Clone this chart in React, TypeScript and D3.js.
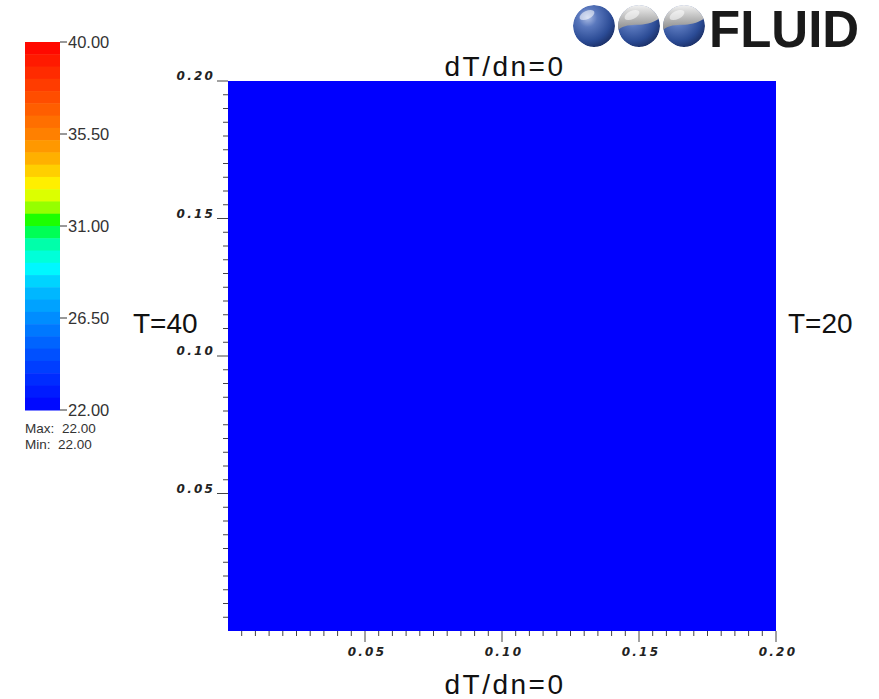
import React from "react";
import * as d3 from "d3";

// domain of the square field (m)
const xDomain = [0, 0.2];
const yDomain = [0, 0.2];
const majorTicks = [0.05, 0.1, 0.15, 0.2];
// field is uniform at the minimum here
const fieldValue = 22;

// colour bar
const barRange = [22, 40];
const barLabels = [40, 35.5, 31, 26.5, 22];
const barBands = 30;
// hue knots of the rainbow (position 0..1 -> hue)
const hueStops = [0, 0.16, 0.33, 0.38, 0.45, 0.5, 0.54, 0.6, 0.68, 0.75, 1];
const hueValues = [240, 220, 195, 183, 160, 130, 90, 60, 42, 30, 0];
const rangeInfo = [
  { label: "Max:", value: 22 },
  { label: "Min:", value: 22 },
];

// boundary conditions
const boundaryTop = "dT/dn=0";
const boundaryBottom = "dT/dn=0";
const boundaryLeft = "T=40";
const boundaryRight = "T=20";

const W = 879;
const H = 699;

const tickFont = {
  fontFamily: "'DejaVu Sans', sans-serif",
  fontWeight: "bold",
  fontStyle: "italic",
  fontSize: 12,
  letterSpacing: 2.2,
  fill: "#222",
} as const;

const bigFont = {
  fontFamily: "'Liberation Sans', Arial, sans-serif",
  fontSize: 28,
  fill: "#111",
} as const;

const labelFont = {
  fontFamily: "'Liberation Sans', Arial, sans-serif",
  fontSize: 16.5,
  fill: "#333",
} as const;

const hue = d3.scaleLinear(hueStops, hueValues);
const rainbow = (t: number) => d3.hsl(hue(t), 1, 0.5).toString();

const Logo = () => {
  const cx = [594, 639, 684];
  const cy = 26;
  const r = 21;
  return (
    <g>
      <defs>
        <radialGradient id="blueBall" cx="0.35" cy="0.3" r="0.75">
          <stop offset="0" stopColor="#aebfe6" />
          <stop offset="0.3" stopColor="#5a78bd" />
          <stop offset="0.75" stopColor="#2b4b95" />
          <stop offset="1" stopColor="#1b2f66" />
        </radialGradient>
        <linearGradient id="silver" x1="0" y1="0" x2="0" y2="1">
          <stop offset="0" stopColor="#f2f2f2" />
          <stop offset="0.5" stopColor="#bdbdbd" />
          <stop offset="1" stopColor="#8a8a8a" />
        </linearGradient>
        {cx.map((x, i) => (
          <clipPath id={`ball${i}`} key={i}>
            <circle cx={x} cy={cy} r={r} />
          </clipPath>
        ))}
      </defs>
      {cx.map((x, i) => (
        <g key={i} clipPath={`url(#ball${i})`}>
          <circle cx={x} cy={cy} r={r} fill="url(#blueBall)" />
          {i > 0 && (
            <path
              d={`M${x - r},${cy + 4} C${x - r * 0.4},${cy - 6} ${x + r * 0.2},${cy + 4} ${x + r},${cy - 8} L${x + r},${cy - r} L${x - r},${cy - r} Z`}
              fill="url(#silver)"
            />
          )}
          <ellipse cx={x - 7} cy={cy - 11} rx={8} ry={4} fill="#fff" opacity={0.55} transform={`rotate(-25 ${x - 7} ${cy - 11})`} />
        </g>
      ))}
      <text
        x={709}
        y={47}
        style={{ fontFamily: "'Liberation Sans', Arial, sans-serif", fontWeight: "bold", fontSize: 51, fill: "#1a1a1a" }}
      >
        FLUID
      </text>
    </g>
  );
};

export default function App() {
  const x = d3.scaleLinear(xDomain, [228, 776]);
  const y = d3.scaleLinear(yDomain, [631, 81]);
  const c = d3.scaleLinear(barRange, [410, 42]);
  const minorX = x.ticks(40).filter((d) => d > 0);
  const minorY = y.ticks(40).filter((d) => d > 0);
  const isMajor = (d: number) => majorTicks.some((m) => Math.abs(m - d) < 1e-9);
  const bandH = (c(barRange[0]) - c(barRange[1])) / barBands;
  const bands = d3.range(barBands).map((i) => ({
    y: c(barRange[1]) + i * bandH,
    color: rainbow(1 - (i + 0.5) / barBands),
  }));
  const fieldColor = rainbow((fieldValue - barRange[0]) / (barRange[1] - barRange[0]));

  return (
    <svg width={W} height={H} style={{ position: "absolute", left: 0, top: 0, background: "#fff" }}>
      <Logo />

      {/* colour bar */}
      {bands.map((b, i) => (
        <rect key={i} x={25} y={b.y} width={35} height={bandH + 0.5} fill={b.color} />
      ))}
      {barLabels.map((v) => (
        <g key={v}>
          <line x1={60} x2={67} y1={c(v)} y2={c(v)} stroke="#333" strokeWidth={1} />
          <text x={68} y={c(v)} dy="0.35em" style={labelFont}>
            {v.toFixed(2)}
          </text>
        </g>
      ))}
      {rangeInfo.map((r, i) => (
        <g key={r.label}>
          <text x={25} y={428 + i * 16} dy="0.35em" style={{ ...labelFont, fontSize: 13.5 }}>
            {r.label}
          </text>
          <text x={i === 0 ? 62 : 58} y={428 + i * 16} dy="0.35em" style={{ ...labelFont, fontSize: 13.5 }}>
            {r.value.toFixed(2)}
          </text>
        </g>
      ))}

      {/* field */}
      <rect x={x(0)} y={y(0.2)} width={x(0.2) - x(0)} height={y(0) - y(0.2)} fill={fieldColor} />

      {/* y axis */}
      {minorY.map((d) => (
        <line key={d} x1={x(0) - (isMajor(d) ? 11 : 5)} x2={x(0)} y1={y(d)} y2={y(d)} stroke="#444" strokeWidth={1} />
      ))}
      {majorTicks.map((d) => (
        <text key={d} x={x(0) - 13} y={y(d) - 1} textAnchor="end" style={tickFont}>
          {d.toFixed(2)}
        </text>
      ))}

      {/* x axis */}
      {minorX.map((d) => (
        <line key={d} x1={x(d)} x2={x(d)} y1={y(0)} y2={y(0) + (isMajor(d) ? 11 : 5)} stroke="#444" strokeWidth={1} />
      ))}
      {majorTicks.map((d) => (
        <text key={d} x={x(d) + 2} y={y(0) + 25} textAnchor="middle" style={tickFont}>
          {d.toFixed(2)}
        </text>
      ))}

      {/* boundary labels */}
      <text x={(x(0) + x(0.2)) / 2 + 3} y={76} textAnchor="middle" style={{ ...bigFont, letterSpacing: 2.5 }}>
        {boundaryTop}
      </text>
      <text x={(x(0) + x(0.2)) / 2 + 3} y={694} textAnchor="middle" style={{ ...bigFont, letterSpacing: 2.5 }}>
        {boundaryBottom}
      </text>
      <text x={133} y={333} style={bigFont}>
        {boundaryLeft}
      </text>
      <text x={788} y={333} style={bigFont}>
        {boundaryRight}
      </text>
    </svg>
  );
}
